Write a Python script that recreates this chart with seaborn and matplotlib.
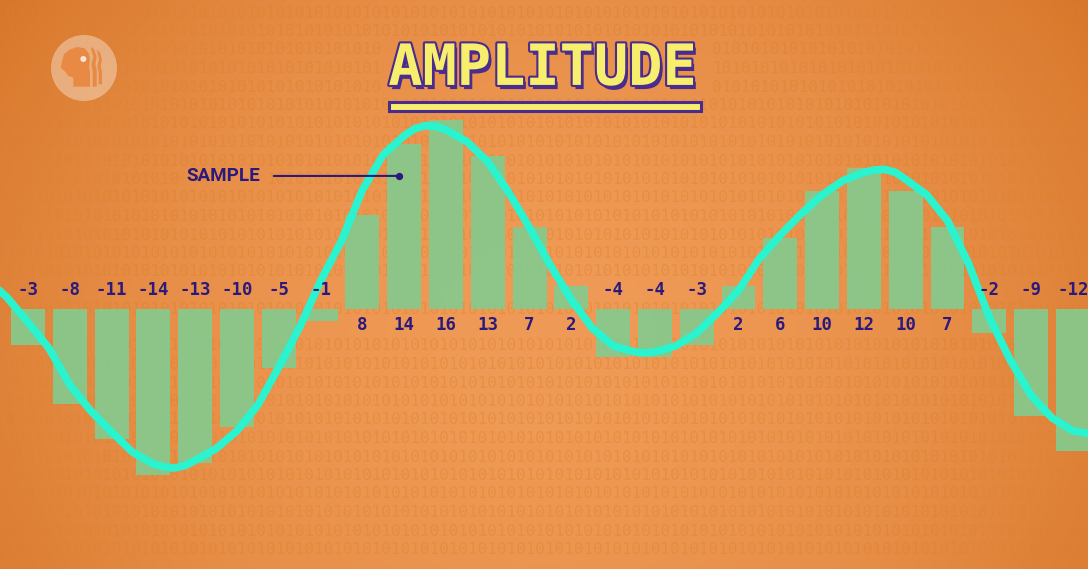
import matplotlib

matplotlib.use("Agg")

import matplotlib.patheffects as pe
import matplotlib.pyplot as plt
import numpy as np
import pandas as pd
import seaborn as sns
from matplotlib.patches import Ellipse, Polygon, Rectangle

# samples (one bar per sample) and the analog wave
sample_index = list(range(26))
sample_values = [-3, -8, -11, -14, -13, -10, -5, -1, 8, 14, 16, 13, 7, 2,
                 -4, -4, -3, 2, 6, 10, 12, 10, 7, -2, -9, -12]

curve_x = [-0.75, -0.5, 0.0, 0.5, 1.0, 1.5, 2.0, 2.5, 3.0, 3.25, 3.5, 3.75,
           4.0, 4.5, 5.0, 5.5, 6.0, 6.5, 7.0, 7.5, 8.0, 8.5, 9.0, 9.25, 9.5,
           9.75, 10.0, 10.5, 11.0, 11.5, 12.0, 12.5, 13.0, 13.5, 14.0, 14.5,
           14.75, 15.0, 15.5, 16.0, 16.5, 17.0, 17.5, 18.0, 18.5, 19.0, 19.5,
           20.0, 20.25, 20.5, 20.75, 21.0, 21.5, 22.0, 22.5, 23.0, 23.5,
           24.0, 24.5, 25.0, 25.5]
curve_y = [1.8, 1.0, -1.1, -3.3, -6.4, -8.6, -10.4, -12.1, -13.1, -13.35,
           -13.45, -13.25, -12.8, -11.8, -10.3, -8.1, -4.9, -1.5, 2.4, 5.8,
           10.1, 13.1, 14.7, 15.3, 15.55, 15.5, 15.2, 14.2, 12.5, 9.9, 6.9,
           3.7, 0.8, -1.6, -3.1, -3.6, -3.7, -3.6, -3.1, -2.0, -0.3, 1.6,
           4.3, 6.3, 8.1, 9.7, 10.9, 11.6, 11.8, 11.85, 11.6, 11.0, 9.7,
           7.5, 3.9, -0.7, -4.3, -7.3, -9.2, -10.3, -10.6]

title_text = "AMPLITUDE"
pointer_label = "SAMPLE"
pointer_xy = (8.87, 11.3)

W, H = 1088, 569
BG_CENTER = np.array([239, 154, 86]) / 255
BG_EDGE = np.array([215, 118, 42]) / 255
BINARY_INK = "#DE8128"
BAR_GREEN = "#87C98C"
WAVE_CYAN = "#2AF3D0"
INK = "#2B1A7C"
TITLE_YELLOW = "#F6EE6C"
TITLE_PURPLE = "#4A2B8E"
LOGO_ORANGE = "#E88A44"


def fx(px: float) -> float:
    return px / W


def fy(py: float) -> float:
    return 1 - py / H


def binary_segments(row: int) -> list[tuple[float, int]]:
    # (left px, number of chars) per row; rows that would sit on labels are split or dropped
    py = 13 + 18.5 * row
    if 282 < py < 300 or 316 < py < 336 or py > 558:
        return []
    if 40 < py < 95:
        return [(6, 39), (712, 38)]
    if 168 < py < 188:
        return [(6, 18), (266, 85)]
    return [(6, 112)]


def draw_background(fig: plt.Figure) -> None:
    bg = fig.add_axes([0, 0, 1, 1], zorder=0)
    yy, xx = np.mgrid[0:1:200j, 0:1:400j]
    dist = np.clip(((xx - 0.5) / 0.62) ** 2 + ((yy - 0.6) / 1.05) ** 2, 0, 1)
    img = BG_CENTER * (1 - dist[..., None]) + BG_EDGE * dist[..., None]
    bg.imshow(img, aspect="auto", extent=(0, 1, 0, 1), origin="upper", zorder=0)
    bg.set_xlim(0, 1)
    bg.set_ylim(0, 1)
    bg.axis("off")

    for row in range(31):
        for left, nchar in binary_segments(row):
            start = "01" if (row + int(left)) % 2 == 0 else "10"
            pattern = (start * 60)[:nchar]
            bg.text(fx(left), fy(13 + 18.5 * row), pattern,
                    family="DejaVu Sans Mono", fontsize=11.5, color=BINARY_INK,
                    alpha=0.38, va="center", ha="left", zorder=1)

    # logo disc with a head profile, top left
    bg.add_patch(Ellipse((fx(84), fy(68)), fx(66), 66 / H, facecolor="white",
                         alpha=0.36, lw=0, zorder=3))

    def to_fig(pts):
        return [(fx(40 + x / 3), fy(25 + y / 3)) for x, y in pts]

    head = [(66, 110), (72, 88), (88, 74), (112, 66), (134, 70), (146, 84),
            (150, 104), (147, 125), (150, 140), (150, 185), (100, 185),
            (100, 158), (84, 152), (76, 140), (62, 128)]
    ridge1 = [(152, 66), (162, 72), (170, 95), (166, 118), (170, 135),
              (170, 185), (158, 185), (158, 138), (154, 118), (160, 96)]
    ridge2 = [(170, 74), (180, 82), (186, 104), (182, 124), (186, 140),
              (186, 178), (176, 178), (176, 142), (172, 124), (177, 102)]
    for shape in (head, ridge1, ridge2):
        bg.add_patch(Polygon(to_fig(shape), closed=True, facecolor=LOGO_ORANGE,
                             edgecolor="none", zorder=4))
    bg.add_patch(Ellipse((fx(40 + 130 / 3), fy(25 + 102 / 3)), fx(6), 6 / H,
                         facecolor="#F8E4D6", lw=0, zorder=5))


def draw_title(fig: plt.Figure) -> None:
    fig.text(0.499, 0.878, title_text, family="DejaVu Sans Mono",
             fontweight="bold", fontsize=41, color=TITLE_YELLOW,
             ha="center", va="center", zorder=5,
             path_effects=[
                 pe.withSimplePatchShadow(offset=(2, -3), shadow_rgbFace=TITLE_PURPLE,
                                          alpha=1),
                 pe.Stroke(linewidth=3, foreground=TITLE_PURPLE),
                 pe.Normal(),
             ])
    fig.patches.append(Rectangle((fx(389), fy(111)), fx(312), 9 / H,
                                 transform=fig.transFigure, facecolor=TITLE_YELLOW,
                                 edgecolor=TITLE_PURPLE, lw=2.2, zorder=5))


def main() -> None:
    fig = plt.figure(figsize=(W / 100, H / 100), dpi=100)
    draw_background(fig)
    draw_title(fig)

    ax = fig.add_axes([0, 0, 1, 1], zorder=1)
    ax.patch.set_alpha(0)

    samples = pd.DataFrame({"sample": sample_index, "value": sample_values})
    sns.barplot(data=samples, x="sample", y="value", color=BAR_GREEN,
                saturation=1, width=0.81, native_scale=True, errorbar=None,
                alpha=0.94, ax=ax, zorder=2)

    sns.lineplot(x=curve_x, y=curve_y, color=WAVE_CYAN, linewidth=5.5,
                 sort=False, ax=ax, zorder=3, solid_capstyle="round",
                 solid_joinstyle="round")

    for idx, val in zip(sample_index, sample_values):
        ypos = -1.35 if val > 0 else 1.6
        ax.text(idx, ypos, f"{val}", family="DejaVu Sans Mono",
                fontweight="bold", fontsize=12.5, color=INK,
                ha="center", va="center", zorder=4)

    ax.annotate(pointer_label, xy=pointer_xy, xytext=(fx(223), fy(176)),
                textcoords="figure fraction", family="Roboto", fontweight="bold",
                fontsize=13.5, color=INK, ha="center", va="center", zorder=4,
                arrowprops=dict(arrowstyle="-", color=INK, lw=1.5,
                                shrinkA=8, shrinkB=0))
    ax.scatter([pointer_xy[0]], [pointer_xy[1]], s=18, color=INK, zorder=4)

    ax.set_xlim(-0.67, 25.36)
    ax.set_ylim(-22.0, 26.2)
    ax.axis("off")

    fig.savefig("out.png", dpi=100)
    plt.close(fig)


if __name__ == "__main__":
    main()
